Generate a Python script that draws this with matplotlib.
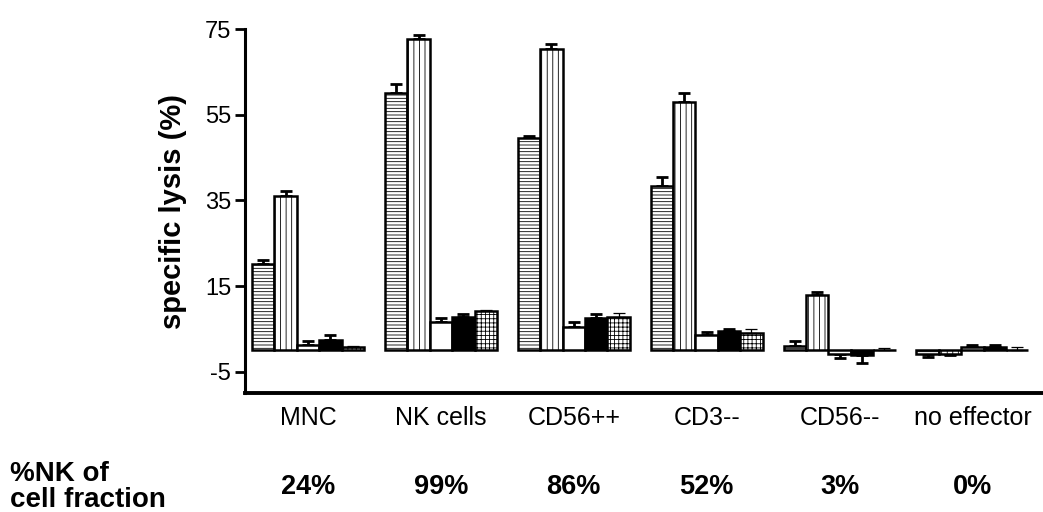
import matplotlib
matplotlib.use("Agg")
from matplotlib import pyplot as plt
from matplotlib import transforms
import numpy as np

# --------- data ------------------------------------
groups = ["MNC", "NK cells", "CD56++", "CD3--", "CD56--", "no effector"]
nk_fraction = ["24%", "99%", "86%", "52%", "3%", "0%"]

# five series per group (hatch: horizontal, vertical, white, black, grid)
s_horiz = [20.2, 60.0, 49.6, 38.4, 1.1, -0.8]
s_vert = [36.0, 72.8, 70.4, 57.9, 13.0, -0.9]
s_white = [1.3, 6.7, 5.4, 3.5, -0.8, 0.9]
s_black = [2.5, 7.8, 7.5, 4.6, -1.0, 0.9]
s_grid = [0.8, 9.2, 7.8, 4.0, 0.0, 0.1]

e_horiz = [0.9, 2.2, 0.5, 2.0, 1.2, 0.7]
e_vert = [1.2, 0.9, 1.2, 2.3, 0.6, 0.2]
e_white = [0.9, 0.9, 1.2, 0.8, 1.0, 0.3]
e_black = [1.0, 0.6, 1.0, 0.3, 2.0, 0.3]
e_grid = [0.3, 0.2, 0.9, 1.0, 0.5, 0.6]

series = [s_horiz, s_vert, s_white, s_black, s_grid]
errors = [e_horiz, e_vert, e_white, e_black, e_grid]
# ------------------------------------------------------

plt.rcParams["font.family"] = ["Liberation Sans", "DejaVu Sans"]
plt.rcParams["hatch.linewidth"] = 0.6
plt.rcParams["axes.unicode_minus"] = False

styles = [
    dict(facecolor="white", hatch="-----"),
    dict(facecolor="white", hatch="|||"),
    dict(facecolor="white", hatch=None),
    dict(facecolor="black", hatch=None),
    dict(facecolor="white", hatch="++++"),
]
err_lw = [2.0, 2.0, 2.0, 2.0, 0.9]

fig = plt.figure(figsize=[10.43, 5.12], dpi=100)
ax = fig.add_axes([0.235, 0.232, 0.78, 0.711])

pitch = 5.93
centers = np.arange(len(groups)) * pitch
for k, (vals, errs) in enumerate(zip(series, errors)):
    x = centers + (k - 2)
    ax.bar(x, vals, width=1.0, edgecolor="black", linewidth=1.8,
           zorder=3, **styles[k])
    vals = np.array(vals)
    errs = np.array(errs)
    lower = np.where(vals < 0, errs, 0)
    upper = np.where(vals >= 0, errs, 0)
    ax.errorbar(x, vals, yerr=[lower, upper], fmt="none", ecolor="black",
                elinewidth=err_lw[k], capsize=4.5, capthick=err_lw[k], zorder=2)

ax.set_ylim(-10, 75)
ax.set_xlim(-2.81, 33.5)
ax.set_yticks([-5, 15, 35, 55, 75])
ax.tick_params(axis="y", labelsize=17, width=2, length=7, pad=3)
ax.set_xticks(centers)
ax.set_xticklabels(groups, fontsize=18)
ax.tick_params(axis="x", length=0, pad=9)

for s in ["top", "right"]:
    ax.spines[s].set_visible(False)
ax.spines["left"].set_linewidth(2.2)
ax.spines["bottom"].set_linewidth(2.8)

ax.set_ylabel("specific lysis (%)", fontsize=21, fontweight="bold", labelpad=13)

trans = transforms.blended_transform_factory(ax.transData, fig.transFigure)
for c, lab in zip(centers, nk_fraction):
    ax.text(c, 1 - 487 / 512, lab, transform=trans, ha="center", va="center",
            fontsize=19.5, fontweight="bold")

fig.text(10 / 1043, 1 - 481 / 512, "%NK of", ha="left", va="baseline",
         fontsize=20, fontweight="bold")
fig.text(10 / 1043, 1 - 507 / 512, "cell fraction", ha="left", va="baseline",
         fontsize=20, fontweight="bold")

fig.savefig("out.png", dpi=100)
